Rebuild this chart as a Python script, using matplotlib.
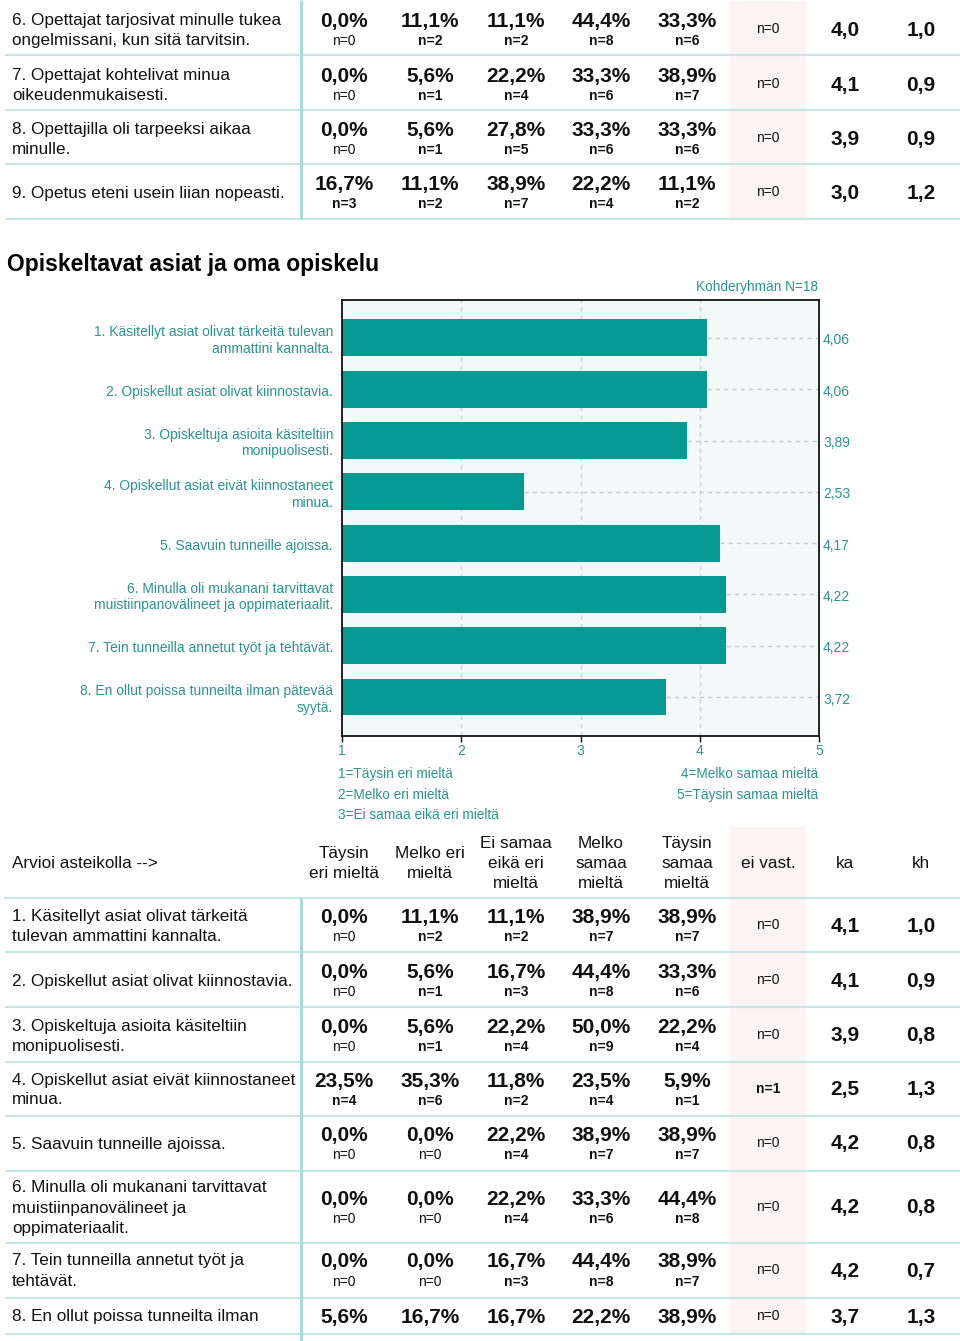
import matplotlib
matplotlib.use('Agg')
import matplotlib.pyplot as plt
import matplotlib.transforms as mtransforms
from matplotlib.patches import Rectangle

plt.rcParams['font.family'] = ['Liberation Sans', 'DejaVu Sans']

# ---------------- data ----------------
scale_headers = ["Täysin\neri mieltä", "Melko eri\nmieltä", "Ei samaa\neikä eri\nmieltä",
                 "Melko\nsamaa\nmieltä", "Täysin\nsamaa\nmieltä"]
missing_header = "ei vast."
mean_header = "ka"
sd_header = "kh"
table_intro = "Arvioi asteikolla -->"

# upper table (teacher questions 6-9)
top_labels = ["6. Opettajat tarjosivat minulle tukea\nongelmissani, kun sitä tarvitsin.",
              "7. Opettajat kohtelivat minua\noikeudenmukaisesti.",
              "8. Opettajilla oli tarpeeksi aikaa\nminulle.",
              "9. Opetus eteni usein liian nopeasti."]
top_pct = [[0.0, 11.1, 11.1, 44.4, 33.3],
           [0.0, 5.6, 22.2, 33.3, 38.9],
           [0.0, 5.6, 27.8, 33.3, 33.3],
           [16.7, 11.1, 38.9, 22.2, 11.1]]
top_n = [[0, 2, 2, 8, 6],
         [0, 1, 4, 6, 7],
         [0, 1, 5, 6, 6],
         [3, 2, 7, 4, 2]]
top_missing = [0, 0, 0, 0]
top_mean = [4.0, 4.1, 3.9, 3.0]
top_sd = [1.0, 0.9, 0.9, 1.2]

# section title and bar chart
section_title = "Opiskeltavat asiat ja oma opiskelu"
group_note = "Kohderyhmän N=18"
chart_labels = ["1. Käsitellyt asiat olivat tärkeitä tulevan\nammattini kannalta.",
                "2. Opiskellut asiat olivat kiinnostavia.",
                "3. Opiskeltuja asioita käsiteltiin\nmonipuolisesti.",
                "4. Opiskellut asiat eivät kiinnostaneet\nminua.",
                "5. Saavuin tunneille ajoissa.",
                "6. Minulla oli mukanani tarvittavat\nmuistiinpanovälineet ja oppimateriaalit.",
                "7. Tein tunneilla annetut työt ja tehtävät.",
                "8. En ollut poissa tunneilta ilman pätevää\nsyytä."]
chart_means = [4.06, 4.06, 3.89, 2.53, 4.17, 4.22, 4.22, 3.72]
scale_ticks = [1, 2, 3, 4, 5]
legend_left = ["1=Täysin eri mieltä", "2=Melko eri mieltä", "3=Ei samaa eikä eri mieltä"]
legend_right = ["4=Melko samaa mieltä", "5=Täysin samaa mieltä"]

# lower table (questions 1-8)
bot_labels = ["1. Käsitellyt asiat olivat tärkeitä\ntulevan ammattini kannalta.",
              "2. Opiskellut asiat olivat kiinnostavia.",
              "3. Opiskeltuja asioita käsiteltiin\nmonipuolisesti.",
              "4. Opiskellut asiat eivät kiinnostaneet\nminua.",
              "5. Saavuin tunneille ajoissa.",
              "6. Minulla oli mukanani tarvittavat\nmuistiinpanovälineet ja\noppimateriaalit.",
              "7. Tein tunneilla annetut työt ja\ntehtävät.",
              "8. En ollut poissa tunneilta ilman"]
bot_pct = [[0.0, 11.1, 11.1, 38.9, 38.9],
           [0.0, 5.6, 16.7, 44.4, 33.3],
           [0.0, 5.6, 22.2, 50.0, 22.2],
           [23.5, 35.3, 11.8, 23.5, 5.9],
           [0.0, 0.0, 22.2, 38.9, 38.9],
           [0.0, 0.0, 22.2, 33.3, 44.4],
           [0.0, 0.0, 16.7, 44.4, 38.9],
           [5.6, 16.7, 16.7, 22.2, 38.9]]
bot_n = [[0, 2, 2, 7, 7],
         [0, 1, 3, 8, 6],
         [0, 1, 4, 9, 4],
         [4, 6, 2, 4, 1],
         [0, 0, 4, 7, 7],
         [0, 0, 4, 6, 8],
         [0, 0, 3, 8, 7],
         None]          # counts of the last row are cut off in the source
bot_missing = [0, 0, 0, 1, 0, 0, 0, 0]
bot_mean = [4.1, 4.1, 3.9, 2.5, 4.2, 4.2, 4.2, 3.7]
bot_sd = [1.0, 0.9, 0.8, 1.3, 0.8, 0.8, 0.7, 1.3]

# ---------------- style / layout ----------------
W, H = 960, 1341
TEAL = '#069893'
TEAL_TXT = '#2b948f'
SEP = '#c6e6e4'
VSEP = '#a9dbd7'
PINK = '#fcf4f4'
COL_X = [344, 430, 516, 601, 687]
MISS_X, KA_X, KH_X = 768, 845, 921
LABEL_X = 12
LINE = 20
FS_LABEL = 12.3
FS_PCT = 15
FS_N = 10

fig = plt.figure(figsize=(W / 100, H / 100), dpi=100)
bg = fig.add_axes([0, 0, 1, 1])
bg.set_xlim(0, W)
bg.set_ylim(H, 0)
bg.axis('off')


def fmt(v, dec=1):
    return f"{v:.{dec}f}".replace('.', ',')


def draw_table(labels, pct, ns, miss, means, sds, centers, seps, top_y, vline_end):
    # pink column for "ei vast."
    prev = top_y
    for s in seps:
        bg.add_patch(Rectangle((730, prev + 1), 76, s - prev - 2, facecolor=PINK,
                               edgecolor='none', zorder=0))
        prev = s
    for s in seps:
        bg.plot([5, W], [s, s], color=SEP, lw=1.6, zorder=1, solid_capstyle='butt')
    bg.plot([301, 301], [top_y, vline_end], color=VSEP, lw=2.2, zorder=2,
            solid_capstyle='butt')
    for i, c in enumerate(centers):
        lines = labels[i].split('\n')
        for j, ln in enumerate(lines):
            y = c + 1 + (j - (len(lines) - 1) / 2) * LINE
            bg.text(LABEL_X, y, ln, fontsize=FS_LABEL, ha='left', va='center', color='#111111')
        has_n = ns[i] is not None
        for k, x in enumerate(COL_X):
            bg.text(x, c - 8 if has_n else c + 1, fmt(pct[i][k]) + '%', fontsize=FS_PCT,
                    fontweight='bold', ha='center', va='center', color='#111111')
            if has_n:
                nv = ns[i][k]
                bg.text(x, c + 12, f"n={nv}", fontsize=FS_N, ha='center', va='center',
                        fontweight='bold' if nv > 0 else 'normal', color='#111111')
        bg.text(MISS_X, c, f"n={miss[i]}", fontsize=FS_N, ha='center', va='center',
                fontweight='bold' if miss[i] > 0 else 'normal', color='#111111')
        bg.text(KA_X, c + 1, fmt(means[i]), fontsize=FS_PCT, fontweight='bold',
                ha='center', va='center', color='#111111')
        bg.text(KH_X, c + 1, fmt(sds[i]), fontsize=FS_PCT, fontweight='bold',
                ha='center', va='center', color='#111111')


# upper table
draw_table(top_labels, top_pct, top_n, top_missing, top_mean, top_sd,
           centers=[29, 84, 138, 192], seps=[55, 110, 164, 219], top_y=0, vline_end=219)

# section title
bg.text(7, 264, section_title, fontsize=16.5, fontweight='bold', ha='left', va='center',
        color='#000000')

# ---------------- bar chart ----------------
ax_l, ax_r, ax_t, ax_b = 342, 819, 300, 736
ax = fig.add_axes([ax_l / W, 1 - ax_b / H, (ax_r - ax_l) / W, (ax_b - ax_t) / H])
ax.set_facecolor('#f3f9f9')
idx = list(range(len(chart_means)))
ax.set_xlim(1, 5)
ax.set_ylim(7.76, -0.74)
for g in [2, 3, 4]:
    ax.axvline(g, color='#cfcfcf', lw=1, dashes=(3, 3), zorder=1)
ax.hlines(idx, chart_means, 5, color='#c8c8c8', lw=1, linestyles=(0, (3, 3)), zorder=1)
ax.barh(idx, chart_means, height=0.72, color=TEAL, zorder=2)
for sp in ax.spines.values():
    sp.set_color('#111111')
    sp.set_linewidth(1.3)
ax.set_xticks(scale_ticks)
ax.set_xticklabels([str(t) for t in scale_ticks])
ax.tick_params(axis='x', direction='out', length=4, width=1, color='#111111',
               labelcolor=TEAL_TXT, labelsize=10, pad=2)
ax.set_yticks([])
tr = mtransforms.blended_transform_factory(ax.transAxes, ax.transData)
tr_down = mtransforms.offset_copy(tr, fig=fig, y=-2.5, units='dots')
for i, (lab, m) in enumerate(zip(chart_labels, chart_means)):
    ax.text(1 + 4 / (ax_r - ax_l), i, fmt(m, 2), transform=tr_down, fontsize=10,
            ha='left', va='center', color=TEAL_TXT)
    ax.text(-9 / (ax_r - ax_l), i, lab, transform=tr_down, fontsize=10, ha='right',
            va='center', color=TEAL_TXT, linespacing=1.25)

bg.text(818, 287, group_note, fontsize=9.8, ha='right', va='center', color=TEAL_TXT)
for j, t in enumerate(legend_left):
    bg.text(338, 774 + j * 20.5, t, fontsize=9.8, ha='left', va='center', color=TEAL_TXT)
for j, t in enumerate(legend_right):
    bg.text(818, 774 + j * 20.5, t, fontsize=9.8, ha='right', va='center', color=TEAL_TXT)

# ---------------- lower table ----------------
bg.add_patch(Rectangle((730, 827), 76, 70, facecolor=PINK, edgecolor='none', zorder=0))
bg.text(LABEL_X, 863, table_intro, fontsize=FS_LABEL, ha='left', va='center', color='#111111')
for x, h in zip(COL_X, scale_headers):
    lines = h.split('\n')
    for j, ln in enumerate(lines):
        bg.text(x, 863 + (j - (len(lines) - 1) / 2) * LINE, ln, fontsize=FS_LABEL,
                ha='center', va='center', color='#111111')
bg.text(MISS_X, 863, missing_header, fontsize=FS_LABEL, ha='center', va='center', color='#111111')
bg.text(KA_X, 863, mean_header, fontsize=FS_LABEL, ha='center', va='center', color='#111111')
bg.text(KH_X, 863, sd_header, fontsize=FS_LABEL, ha='center', va='center', color='#111111')

draw_table(bot_labels, bot_pct, bot_n, bot_missing, bot_mean, bot_sd,
           centers=[925, 980, 1035, 1089, 1143, 1207, 1270, 1316],
           seps=[952, 1007, 1062, 1116, 1171, 1243, 1298, 1334], top_y=898, vline_end=H)
bg.plot([5, W], [898, 898], color=SEP, lw=1.6, zorder=1)

fig.savefig('out.png', dpi=100, facecolor='white')
